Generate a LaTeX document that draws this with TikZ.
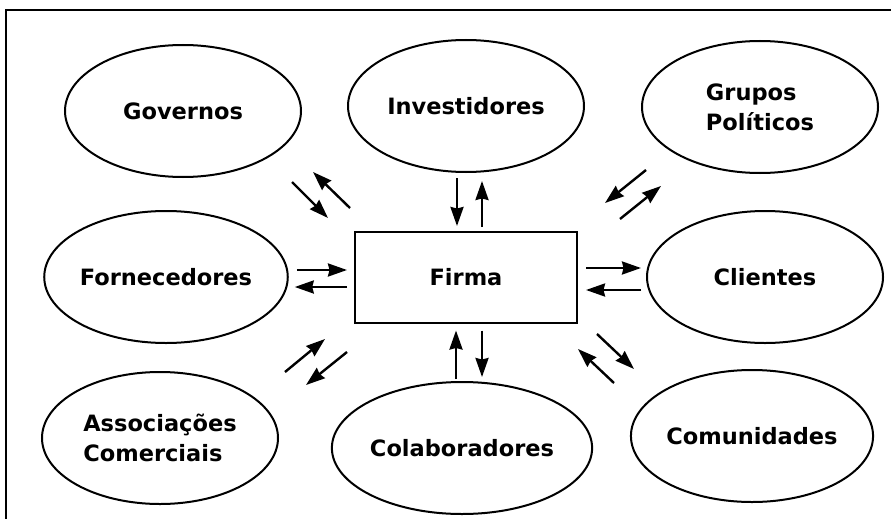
\documentclass[tikz,border=0pt]{standalone}
\usepackage{fontspec}
\setmainfont{DejaVu Sans}
\usetikzlibrary{shapes.geometric,arrows.meta}
\begin{document}
\begin{tikzpicture}[x=1pt,y=-1pt,
  lbl/.style={font=\bfseries\fontsize{22.5}{30}\selectfont,align=left},
  party/.style={ellipse,draw,line width=2pt,minimum width=236pt,minimum height=132pt,inner sep=0pt,lbl},
  firmbox/.style={rectangle,draw,line width=2pt,minimum width=222pt,minimum height=91pt,inner sep=0pt,lbl},
  arr/.style={line width=2.4pt,-{Stealth[length=19pt,width=13pt,inset=1.5pt]}},
  frame/.style={line width=2pt}]
\useasboundingbox (0,0) rectangle (891,519);
\draw[frame] (6,519) -- (6,10) -- (891,10);

\node[party] (gov) at (183,111) {Governos};
\node[party] (inv) at (466,106) {Investidores};
\node[party] (grp) at (760,107) {Grupos\\Políticos};
\node[party] (forn) at (166,277) {Fornecedores};
\node[firmbox] (firma) at (466,277) {Firma};
\node[party] (cli) at (765,277) {Clientes};
\node[party] (assoc) at (160,438) {Associações\\Comerciais};
\node[party] (colab) at (462,448) {Colaboradores};
\node[party] (com) at (752,436) {Comunidades};

% vertical arrows, top
\draw[arr,shorten <=5pt,shorten >=4.5pt] ([xshift=-9pt]inv.south) -- ([xshift=-9pt]firma.north);
\draw[arr,shorten <=3.5pt,shorten >=8pt] ([xshift=16pt]firma.north) -- ([xshift=16pt]inv.south);
% vertical arrows, bottom
\draw[arr,shorten <=2pt,shorten >=7pt] ([xshift=-6pt]colab.north) -- ([xshift=-10pt]firma.south);
\draw[arr,shorten <=7pt,shorten >=4pt] ([xshift=16pt]firma.south) -- ([xshift=20pt]colab.north);
% horizontal arrows, left
\draw[arr,shorten <=8pt,shorten >=7pt] ([yshift=7pt]forn.east) -- ([yshift=7pt]firma.west);
\draw[arr,shorten <=7pt,shorten >=6pt] ([yshift=-10pt]firma.west) -- ([yshift=-10pt]forn.east);
% horizontal arrows, right
\draw[arr,shorten <=8pt,shorten >=5pt] ([yshift=9pt]firma.east) -- ([yshift=9pt]cli.west);
\draw[arr,shorten <=5pt,shorten >=8pt] ([yshift=-13pt]cli.west) -- ([yshift=-13pt]firma.east);

% diagonal arrows
\coordinate (a1s) at (292,182); \coordinate (a1e) at (328,218);
\coordinate (a2s) at (350,208); \coordinate (a2e) at (313,172);
\coordinate (b1s) at (285,372); \coordinate (b1e) at (325,339);
\coordinate (b2s) at (347,352); \coordinate (b2e) at (306,385);
\coordinate (c1s) at (597,334); \coordinate (c1e) at (634,369);
\coordinate (c2s) at (614,383); \coordinate (c2e) at (578,349);
\coordinate (d1s) at (646,170); \coordinate (d1e) at (605,203);
\coordinate (d2s) at (620,219); \coordinate (d2e) at (661,186);
\draw[arr] (a1s) -- (a1e);
\draw[arr] (a2s) -- (a2e);
\draw[arr] (b1s) -- (b1e);
\draw[arr] (b2s) -- (b2e);
\draw[arr] (c1s) -- (c1e);
\draw[arr] (c2s) -- (c2e);
\draw[arr] (d1s) -- (d1e);
\draw[arr] (d2s) -- (d2e);
\end{tikzpicture}
\end{document}
